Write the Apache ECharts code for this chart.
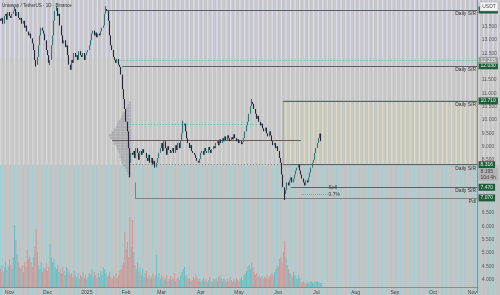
<!DOCTYPE html>
<html><head><meta charset="utf-8">
<script src="https://cdn.jsdelivr.net/npm/echarts@6/dist/echarts.min.js"></script>
<style>html,body{margin:0;padding:0;background:#c6c6c6;}#c{width:500px;height:295px;}</style>
</head><body><div id="c"></div>
<script>
// ---------------- DATA ----------------
const startDate = '2024-10-25';
const dayCount = 377;              // categories on the time axis (daily)
const firstOpen = 13.80;
const closes = [
13.72,13.83,13.61,13.90,13.98,13.76,14.05,13.90,13.83,13.98,
14.09,14.16,13.90,14.05,13.83,13.76,13.83,13.61,13.72,13.46,
13.54,13.32,13.17,13.24,13.06,12.87,12.62,12.25,12.07,12.36,
12.80,13.17,13.46,13.35,13.24,12.99,12.62,12.43,12.14,12.25,
12.80,13.17,13.72,14.09,14.20,13.90,13.98,13.54,13.17,12.87,
12.99,12.73,12.80,12.43,12.07,11.88,12.25,12.14,12.51,12.36,
12.43,12.25,12.58,12.43,12.36,12.51,12.25,12.43,12.54,12.62,
12.80,12.99,13.24,13.35,13.17,13.28,13.10,13.24,13.17,13.32,
13.46,13.54,13.98,14.16,14.09,13.72,13.17,12.80,12.62,12.36,
12.25,12.14,12.29,12.07,11.99,11.70,11.15,10.78,10.41,9.93,
9.57,8.94,8.39,8.76,8.69,8.83,8.57,8.94,8.76,8.50,
8.83,8.69,8.90,8.76,8.76,8.57,8.46,8.69,8.39,8.57,
8.32,8.46,8.21,8.39,8.57,8.76,8.94,9.13,8.83,9.20,
8.94,8.69,9.01,8.87,8.76,8.83,8.94,8.76,9.05,8.87,
9.13,8.94,9.20,9.49,9.79,9.86,9.57,9.31,9.13,8.94,
9.05,8.83,8.76,8.69,8.57,8.46,8.39,8.54,8.76,8.83,
8.69,8.94,8.83,8.76,8.98,8.87,8.76,8.90,9.01,8.94,
9.13,9.20,9.05,9.27,9.13,9.31,9.20,9.38,9.24,9.42,
9.31,9.20,9.35,9.27,9.46,9.31,9.20,9.27,9.13,9.20,
9.09,9.16,9.31,9.57,9.79,9.93,10.23,10.52,10.67,10.60,
10.41,10.23,10.04,10.15,9.93,9.79,9.86,9.68,9.57,9.71,
9.49,9.38,9.57,9.42,9.20,9.05,9.13,8.94,9.01,8.83,
8.57,8.39,7.95,7.47,7.21,7.36,7.65,7.54,7.73,7.84,
7.65,7.80,7.95,8.10,8.21,8.32,8.10,7.95,7.80,7.65,
7.54,7.73,7.65,7.84,8.02,8.21,8.39,8.50,8.76,8.94,
9.13,9.31,9.49,9.20
];
const wickLows  = [[28,12.00],[39,12.05],[102,7.84],[224,6.99]];
const wickHighs = [[11,14.25],[44,14.27],[83,14.27],[144,9.97],[198,10.78]];
const volumes = [
18,22,15,20,25,17,20,28,22,18,
30,62,47,33,25,20,18,22,15,25,
20,37,28,30,25,20,30,40,58,35,
22,18,25,15,20,18,24,16,20,43,
30,25,28,20,18,22,15,18,14,20,
16,12,20,18,15,12,14,10,16,12,
10,14,8,12,10,15,9,12,8,10,
14,12,18,10,15,12,9,14,10,16,
12,20,18,14,10,12,15,10,8,12,
10,14,9,12,16,18,22,25,55,38,
45,30,70,40,67,35,22,18,25,15,
20,12,18,10,14,16,9,12,8,10,
14,9,12,32,10,14,8,12,10,7,
9,12,6,8,11,7,9,14,6,8,
10,7,12,15,18,20,12,10,8,9,
6,7,10,8,12,9,6,8,5,7,
9,6,8,5,7,10,6,5,8,7,
9,6,10,12,8,6,9,7,5,8,
6,10,7,5,8,6,9,7,6,8,
10,7,12,14,16,20,22,18,25,20,
15,12,14,10,12,9,11,8,10,9,
12,8,10,12,14,11,15,18,22,20,
28,30,25,35,46,30,22,18,14,12,
10,15,12,10,8,12,9,5,4,6,
4,3,5,4,5,6,5,4,6,5,
6,5,4,4
];
// visible-range volume profile (price bins, top to bottom)
const profilePrices = [10.5,10.4,10.3,10.2,10.1,10.0,9.9,9.8,9.7,9.6,9.5,9.4,9.3,9.2,9.1,9.0,8.9,8.8,8.7,8.6,8.5,8.4,8.3,8.2,8.1,8.0,7.9,7.8];
const profileValues = [2,3,4,5,7,8,9,11,12,13,15,17,19,18,16,15,13,12,11,10,10,9,8,7,5,4,3,2];
// support / resistance levels
const srPrices = [14.125, 12.030, 10.710, 8.316, 7.470, 7.070];
const srFrom   = ['2025-01-16','2025-01-29','2025-06-05','2025-06-05','2025-06-11','2025-02-08'];
const srLabels = ['Daily S/R','Daily S/R','Daily S/R','Daily S/R','Daily S/R','Pdl'];
const dottedLevel = 12.235, dottedFrom = '2025-01-23';
const pocPrice = 9.24, pocFrom = '2025-01-21', pocTo = '2025-06-19';
const vahPrice = 9.82, valPrice = 8.35, vaFrom = '2025-02-04', vahTo = '2025-05-20', valTo = '2025-06-11';
const boxTop = 10.710, boxBottom = 8.316, boxFrom = '2025-06-05';
const targetPrice = 7.21, targetFrom = '2025-06-19', targetTo = '2025-07-10';
const yTicks = {min: 3.5, max: 14.5, step: 0.5};

// ---------------- BUILD ----------------
const dates = [];
{ const t0 = Date.parse(startDate + 'T00:00:00Z');
  for (let i = 0; i < dayCount; i++) dates.push(new Date(t0 + i * 86400000).toISOString().slice(0, 10)); }
const lastDate = dates[dates.length - 1];
const lowMap = Object.fromEntries(wickLows), highMap = Object.fromEntries(wickHighs);
const candles = [], vols = [];
for (let i = 0; i < closes.length; i++) {
  const o = i === 0 ? firstOpen : closes[i - 1], c = closes[i];
  let lo = Math.min(o, c), hi = Math.max(o, c);
  if (lowMap[i] !== undefined) lo = Math.min(lo, lowMap[i]);
  if (highMap[i] !== undefined) hi = Math.max(hi, highMap[i]);
  candles.push([o, c, lo, hi]);
  vols.push({value: volumes[i], itemStyle: {color: c >= o ? 'rgba(88,190,196,0.85)' : 'rgba(214,140,140,0.85)'}});
}

function stripes(bg, fg, period, w) {
  const n = 5, cv = document.createElement('canvas');
  cv.width = Math.round(period * n); cv.height = 2;
  const ctx = cv.getContext('2d');
  ctx.fillStyle = bg; ctx.fillRect(0, 0, cv.width, 2);
  ctx.fillStyle = fg;
  for (let i = 0; i < n; i++) ctx.fillRect(i * period, 0, w, 2);
  return {image: cv, repeat: 'repeat'};
}

const MAIN_TOP = -6.2, MAIN_H = 299.2;
const pxOf = p => MAIN_TOP + (yTicks.max - p) / (yTicks.max - yTicks.min) * MAIN_H;
const profTop = pxOf(profilePrices[0] + 0.05), profBot = pxOf(profilePrices[profilePrices.length - 1] - 0.05);

const FONT = 'Liberation Sans';
const mlData = [];
srPrices.forEach((p, i) => {
  mlData.push([{coord: [srFrom[i], p], lineStyle: {color: i === 5 ? '#6f6f6f' : '#56636a', width: i === 5 ? 0.8 : 1, type: 'solid'},
    label: {show: true, position: 'insideEndBottom', formatter: srLabels[i], fontSize: 5, color: '#333', distance: 1, fontFamily: FONT}},
    {coord: [lastDate, p]}]);
});
mlData.push([{coord: [dottedFrom, dottedLevel], lineStyle: {color: '#4fb8c8', width: 1, type: [1, 2]}, label: {show: false}}, {coord: [lastDate, dottedLevel]}]);
mlData.push([{coord: [pocFrom, pocPrice], lineStyle: {color: '#6e5a58', width: 1, type: 'solid'}, label: {show: false}}, {coord: [pocTo, pocPrice]}]);
mlData.push([{coord: [vaFrom, vahPrice], lineStyle: {color: '#55b8c8', width: 1, type: [1, 2]}, label: {show: false}}, {coord: [vahTo, vahPrice]}]);
mlData.push([{coord: [vaFrom, valPrice], lineStyle: {color: '#808080', width: 1, type: [1, 2]}, label: {show: false}}, {coord: [valTo, valPrice]}]);
mlData.push([{coord: [targetFrom, targetPrice], lineStyle: {color: '#8a8a8a', width: 0.8, type: [1, 1]}, label: {show: false}}, {coord: [targetTo, targetPrice]}]);
mlData.push([{coord: [srFrom[5], 7.65], lineStyle: {color: '#6f6f6f', width: 0.8, type: 'solid'}, label: {show: false}}, {coord: [srFrom[5], srPrices[5]]}]);

const boxLabel = (p, txt, bg, fg) => ({coord: [lastDate, p], symbol: 'rect', symbolSize: 0,
  label: {show: true, position: 'right', distance: 1.5, formatter: txt, fontSize: 5, fontFamily: FONT, color: fg,
    backgroundColor: bg, padding: [1, 2, 0.5, 2], lineHeight: 5.5}});
const mpData = srPrices.map(p => boxLabel(p, p.toFixed(3), '#1e5c3a', '#e8f4ec'));
mpData.push(boxLabel(dottedLevel, dottedLevel.toFixed(3), '#9c9c9c', '#f0f0f0'));
mpData.push(boxLabel(7.95, '8.195\n10d 4h', '#b2b2b2', '#404040'));
mpData.push({coord: [targetTo, srPrices[4]], symbol: 'rect', symbolSize: 0,
  label: {show: true, position: 'right', distance: 1, formatter: 'Sell', fontSize: 5, color: '#333', fontFamily: FONT}});
mpData.push({coord: [targetTo, targetPrice], symbol: 'rect', symbolSize: 0,
  label: {show: true, position: 'right', distance: 1, formatter: '0.7%', fontSize: 5, color: '#333', fontFamily: FONT}});

const months = ['Jan','Feb','Mar','Apr','May','Jun','Jul','Aug','Sep','Oct','Nov','Dec'];

const option = {
  animation: false,
  backgroundColor: 'transparent',
  graphic: [
    {type: 'rect', z: -10, silent: true, shape: {x: 0, y: 0, width: 500, height: 58}, style: {fill: stripes('#c6c6c8', '#d9d9ea', 4.6, 1.5)}},
    {type: 'rect', z: -10, silent: true, shape: {x: 0, y: 58, width: 500, height: 107}, style: {fill: stripes('#c6c6c6', '#d6d6d6', 4.6, 1.4)}},
    {type: 'rect', z: -10, silent: true, shape: {x: 0, y: 165, width: 500, height: 130}, style: {fill: stripes('#c4c4c4', '#98d2d6', 4.6, 1.1)}},
    {type: 'rect', z: 50, silent: true, shape: {x: 480, y: 2, width: 18, height: 9}, style: {fill: '#f4f4f4', stroke: '#a0a0a0', lineWidth: 0.5}},
    {type: 'text', z: 51, silent: true, x: 489, y: 6.5, style: {text: 'USDT', fontSize: 5, fill: '#555', align: 'center', verticalAlign: 'middle', fontFamily: FONT}},
    {type: 'text', z: 51, silent: true, x: 2, y: 3, style: {text: 'Uniswap / TetherUS · 1D · Binance', fontSize: 4.5, fill: '#333', fontFamily: FONT}}
  ],
  grid: [
    {left: 0, width: 478, top: MAIN_TOP, height: MAIN_H},
    {left: 0, width: 478, top: 202, height: 85},
    {left: 108, width: 23, top: profTop, height: profBot - profTop}
  ],
  xAxis: [
    {type: 'category', gridIndex: 0, data: dates, show: false, boundaryGap: true},
    {type: 'category', gridIndex: 1, data: dates, boundaryGap: true,
      axisLine: {show: true, lineStyle: {color: '#8c8c8c', width: 1}}, axisTick: {show: false},
      axisLabel: {fontSize: 5, color: '#454545', margin: 3, fontFamily: FONT,
        interval: (idx, val) => val.slice(8) === '01',
        formatter: v => v.slice(5, 7) === '01' ? v.slice(0, 4) : months[+v.slice(5, 7) - 1]}},
    {type: 'value', gridIndex: 2, inverse: true, min: 0, max: 20, show: false}
  ],
  yAxis: [
    {type: 'value', gridIndex: 0, position: 'right', min: yTicks.min, max: yTicks.max, interval: yTicks.step,
      splitLine: {show: false}, axisTick: {show: false},
      axisLine: {show: true, lineStyle: {color: '#8c8c8c', width: 1}},
      axisLabel: {fontSize: 5, color: '#5a5a5a', margin: 4, fontFamily: FONT,
        formatter: v => (v > 13.6 || v < 3.9) ? '' : v.toFixed(3)}},
    {type: 'value', gridIndex: 1, min: 0, max: 85, show: false},
    {type: 'category', gridIndex: 2, data: profilePrices.map(p => p.toFixed(1)), inverse: true, show: false}
  ],
  series: [
    {type: 'bar', xAxisIndex: 2, yAxisIndex: 2, data: profileValues, barCategoryGap: '10%', z: 1,
      itemStyle: {color: 'rgba(140,140,156,0.45)'}},
    {type: 'bar', xAxisIndex: 1, yAxisIndex: 1, data: vols, barWidth: 1, z: 2},
    {type: 'candlestick', xAxisIndex: 0, yAxisIndex: 0, data: candles, barWidth: 1.2, z: 5,
      itemStyle: {color: '#3a7474', color0: '#26263a', borderColor: '#3a7474', borderColor0: '#26263a', borderWidth: 1.1},
      markArea: {silent: true, itemStyle: {color: stripes('#c7c7c2', '#dcdac4', 4.6, 1.5), borderColor: '#8e8e86', borderWidth: 0.6},
        data: [[{coord: [boxFrom, boxTop]}, {coord: [lastDate, boxBottom]}]]},
      markLine: {silent: true, symbol: ['none', 'none'], animation: false, data: mlData},
      markPoint: {silent: true, animation: false, data: mpData}
    }
  ]
};
const chart = echarts.init(document.getElementById('c'));
chart.setOption(option);
</script></body></html>
